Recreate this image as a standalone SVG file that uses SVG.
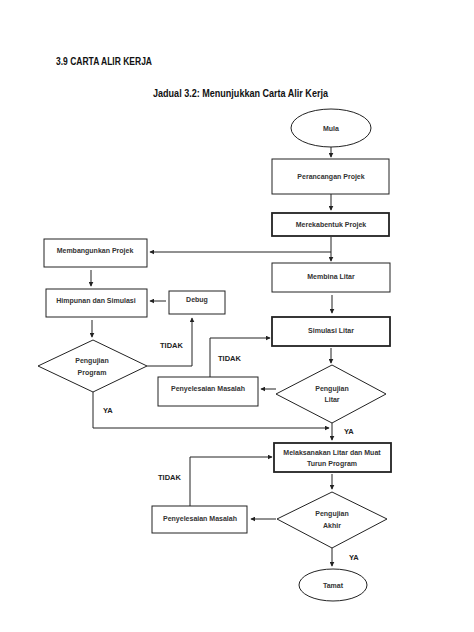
<svg xmlns="http://www.w3.org/2000/svg" width="474" height="632" viewBox="0 0 474 632">
<style>
.shape{fill:#fff;stroke:#222;stroke-width:1}
.bold{stroke-width:1.8}
.lbl{font-family:"Liberation Sans",Arial,sans-serif;font-size:7px;font-weight:bold;fill:#333;text-anchor:middle}
.small{font-family:"Liberation Sans",Arial,sans-serif;font-size:7.5px;font-weight:bold;fill:#222}
.title{font-family:"Liberation Sans",Arial,sans-serif;font-weight:bold;fill:#111}
.con{fill:none;stroke:#222;stroke-width:1}
</style>
<defs>
<marker id="arr" viewBox="0 0 8 8" refX="7" refY="4" markerWidth="5" markerHeight="5" orient="auto" markerUnits="userSpaceOnUse">
<path d="M0,0 L8,4 L0,8 z" fill="#222"/>
</marker>
</defs>
<rect width="474" height="632" fill="#fff"/>
<text class="title" x="56" y="65" font-size="10.5" textLength="96" lengthAdjust="spacingAndGlyphs">3.9 CARTA ALIR KERJA</text>
<text class="title" x="153" y="97" font-size="10" textLength="175" lengthAdjust="spacingAndGlyphs">Jadual 3.2: Menunjukkan Carta Alir Kerja</text>

<g id="connectors">
<path class="con" d="M331,147 V157" marker-end="url(#arr)"/>
<path class="con" d="M331,194 V210" marker-end="url(#arr)"/>
<path class="con" d="M331,237 V261" marker-end="url(#arr)"/>
<path class="con" d="M331,252 H150" marker-end="url(#arr)"/>
<path class="con" d="M91,270 V286" marker-end="url(#arr)"/>
<path class="con" d="M166,301 H150" marker-end="url(#arr)"/>
<path class="con" d="M92,320 V337" marker-end="url(#arr)"/>
<path class="con" d="M147,366 H192 V318" marker-end="url(#arr)"/>
<path class="con" d="M332,295 V313" marker-end="url(#arr)"/>
<path class="con" d="M331,348 V363" marker-end="url(#arr)"/>
<path class="con" d="M276,389 H261" marker-end="url(#arr)"/>
<path class="con" d="M210,377 V338 H270" marker-end="url(#arr)"/>
<path class="con" d="M93,392 V428 H329" marker-end="url(#arr)"/>
<path class="con" d="M332,423 V440" marker-end="url(#arr)"/>
<path class="con" d="M332,474 V489" marker-end="url(#arr)"/>
<path class="con" d="M276,519 H251" marker-end="url(#arr)"/>
<path class="con" d="M190,506 V457 H272" marker-end="url(#arr)"/>
<path class="con" d="M332,548 V566" marker-end="url(#arr)"/>
<text class="small" x="160" y="348">TIDAK</text>
<text class="small" x="218" y="361">TIDAK</text>
<text class="small" x="103" y="413">YA</text>
<text class="small" x="344" y="434">YA</text>
<text class="small" x="158" y="480">TIDAK</text>
<text class="small" x="349" y="560">YA</text>
</g>

<g id="mula"><ellipse class="shape" cx="331" cy="128" rx="40" ry="19"/><text class="lbl" x="331" y="131">Mula</text></g>
<g id="perancangan"><rect class="shape" x="272" y="159" width="117" height="35"/><text class="lbl" x="331" y="179">Perancangan Projek</text></g>
<g id="merekabentuk"><rect class="shape bold" x="272" y="213" width="117" height="23"/><text class="lbl" x="331" y="227">Merekabentuk Projek</text></g>
<g id="membangunkan"><rect class="shape" x="44" y="239" width="103" height="28"/><text class="lbl" x="95" y="253">Membangunkan Projek</text></g>
<g id="himpunan"><rect class="shape" x="46" y="289" width="101" height="28"/><text class="lbl" x="96" y="303">Himpunan dan Simulasi</text></g>
<g id="debug"><rect class="shape" x="169" y="291" width="56" height="23"/><text class="lbl" x="197" y="302">Debug</text></g>
<g id="pengujian-program"><path class="shape" d="M93,340 L147,366 L93,392 L38,366 Z"/><text class="lbl" x="92" y="363">Pengujian</text><text class="lbl" x="92" y="375">Program</text></g>
<g id="membina"><rect class="shape" x="272" y="263" width="118" height="29"/><text class="lbl" x="331" y="279">Membina Litar</text></g>
<g id="simulasi"><rect class="shape bold" x="272" y="317" width="118" height="29"/><text class="lbl" x="331" y="333">Simulasi Litar</text></g>
<g id="pengujian-litar"><path class="shape" d="M332,365 L386,394 L332,423 L276,394 Z"/><text class="lbl" x="332" y="391">Pengujian</text><text class="lbl" x="332" y="402">Litar</text></g>
<g id="penyelesaian1"><rect class="shape" x="158" y="377" width="100" height="29"/><text class="lbl" x="208" y="391">Penyelesaian Masalah</text></g>
<g id="melaksanakan"><rect class="shape bold" x="274" y="443" width="117" height="29"/><text class="lbl" x="332" y="455">Melaksanakan Litar dan Muat</text><text class="lbl" x="332" y="466">Turun Program</text></g>
<g id="pengujian-akhir"><path class="shape" d="M332,492 L387,519 L332,548 L277,519 Z"/><text class="lbl" x="332" y="516">Pengujian</text><text class="lbl" x="332" y="528">Akhir</text></g>
<g id="penyelesaian2"><rect class="shape" x="152" y="506" width="95" height="27"/><text class="lbl" x="200" y="521">Penyelesaian Masalah</text></g>
<g id="tamat"><ellipse class="shape" cx="333" cy="585" rx="34" ry="16"/><text class="lbl" x="333" y="588">Tamat</text></g>
</svg>
